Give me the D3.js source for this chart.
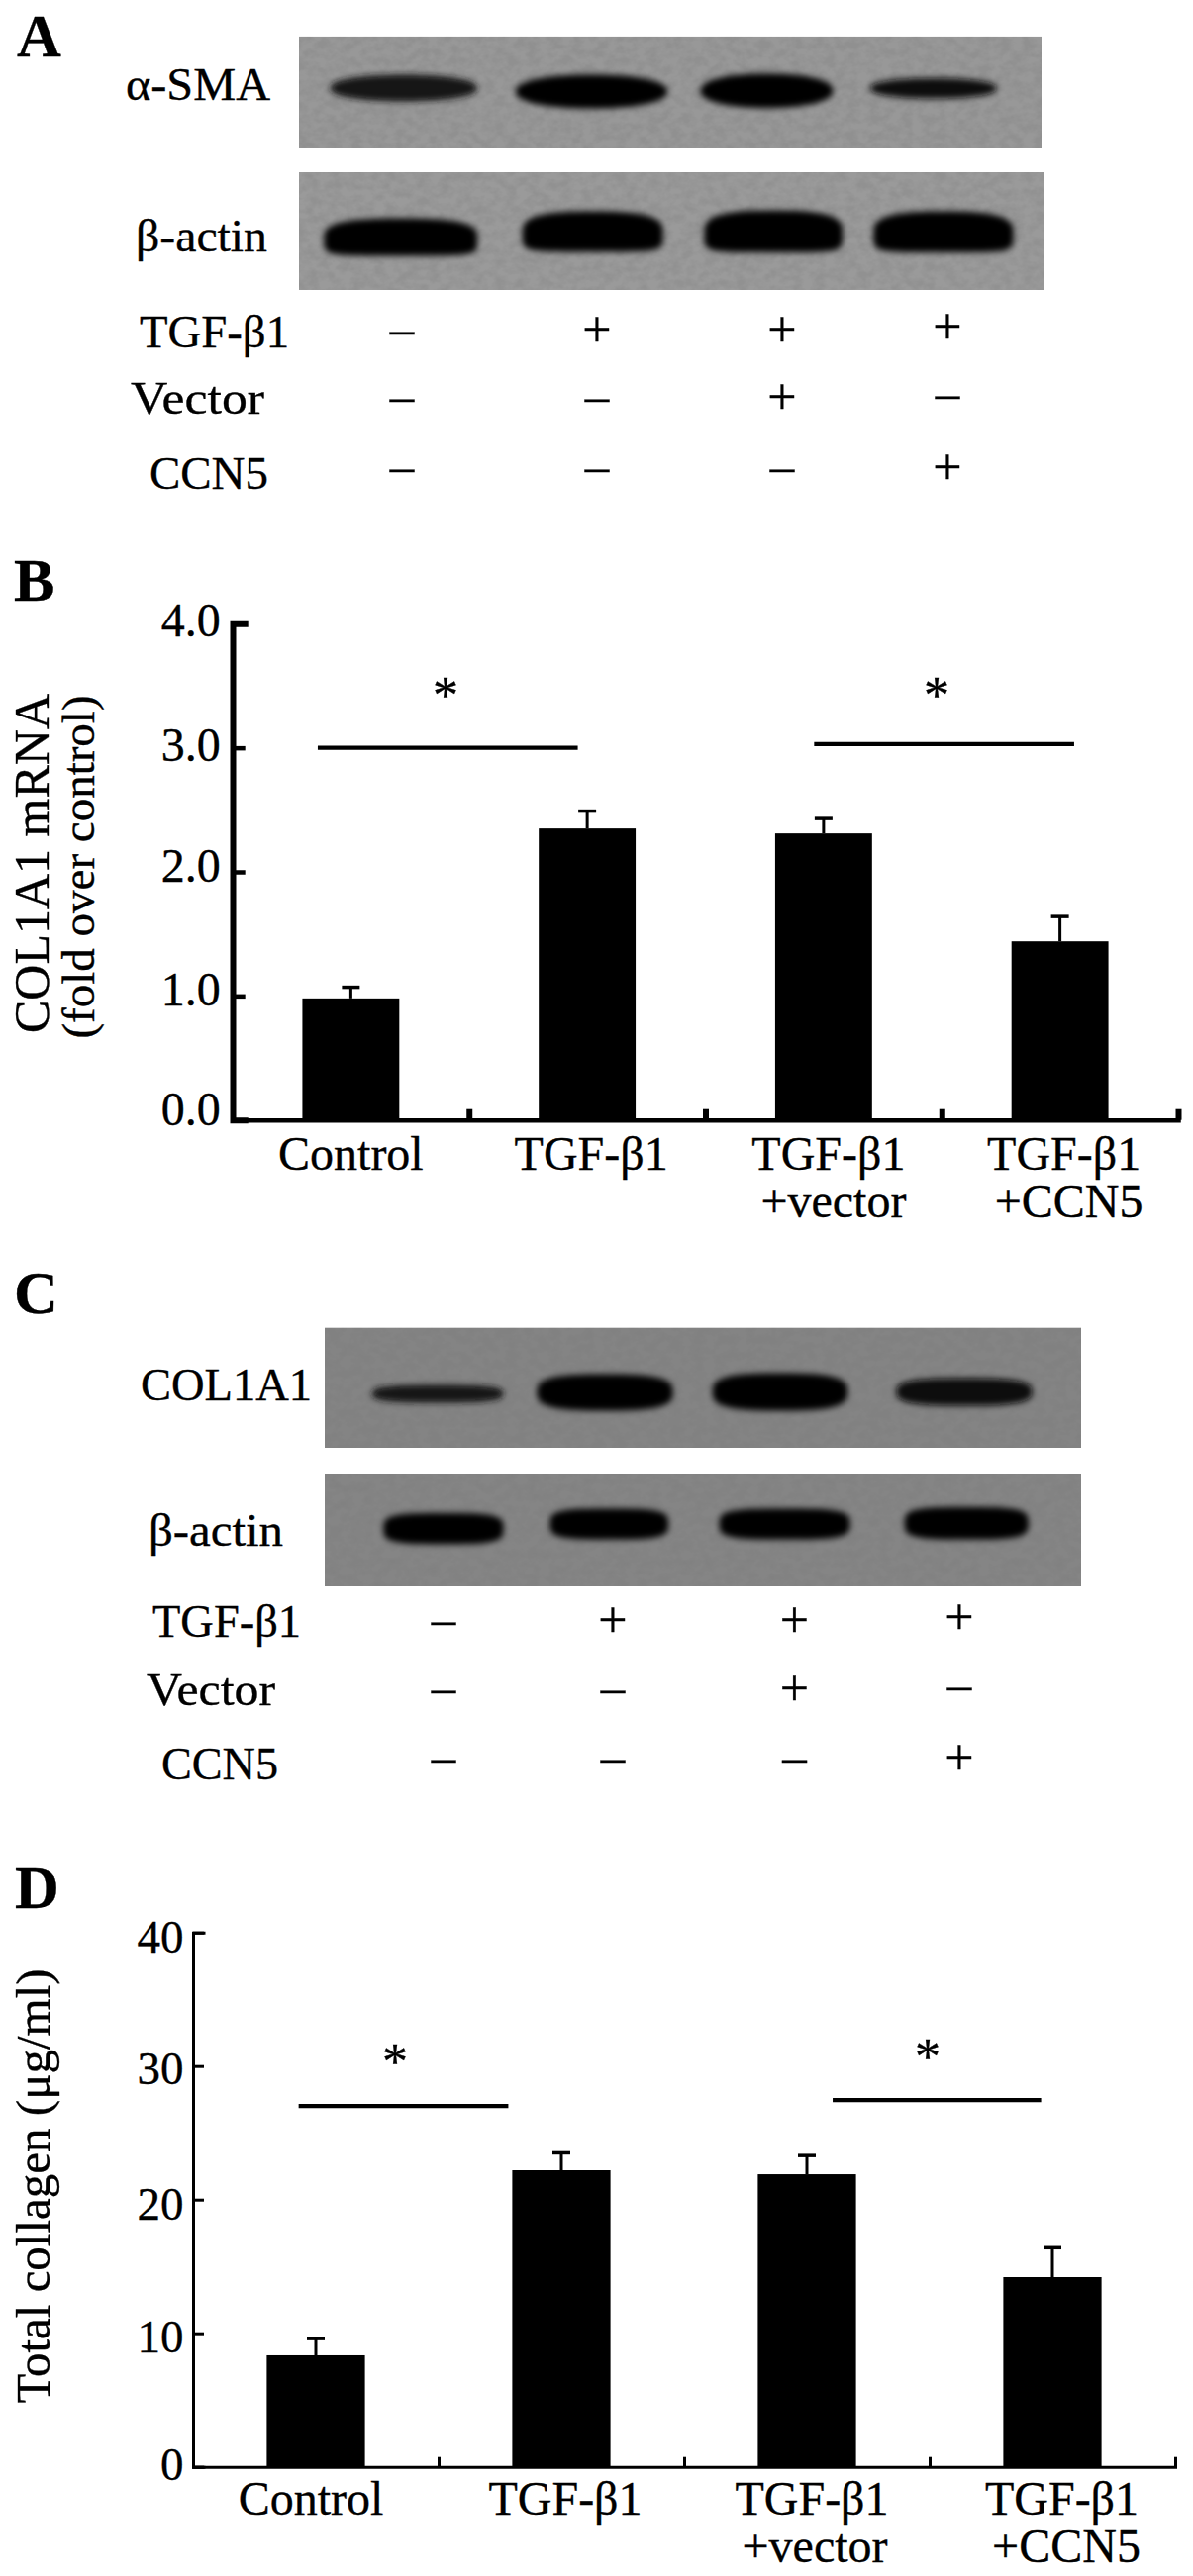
<!DOCTYPE html>
<html><head><meta charset="utf-8">
<script src="https://cdn.jsdelivr.net/npm/d3@7"></script>
<style>html,body{margin:0;padding:0;background:#fff}svg{display:block}text{font-family:"Liberation Serif",serif;fill:#000;stroke:#000;stroke-width:.35px}</style>
</head><body><div id="chart"></div>
<script>
// ---------- data ----------
const categories = ["Control", "TGF-β1", "TGF-β1\n+vector", "TGF-β1\n+CCN5"];
const mrnaMeans = [0.98, 2.35, 2.31, 1.44];
const mrnaUpper = [1.07, 2.49, 2.43, 1.64];
const mrnaTicks = [0, 1, 2, 3, 4];
const collagenMeans = [8.35, 22.2, 21.9, 14.2];
const collagenUpper = [9.6, 23.5, 23.3, 16.4];
const collagenTicks = [0, 10, 20, 30, 40];
// significance bars: from / to in group units, level in axis units, star group position, star level
const mrnaSig = [[0.36, 1.46, 3.0, 0.9, 3.475], [2.46, 3.56, 3.03, 2.978, 3.475]];
const collagenSig = [[0.43, 1.284, 27.0, 0.823, 30.8], [2.605, 3.454, 27.45, 2.992, 31.2]];
// treatment grid
const treatments = ["TGF-β1", "Vector", "CCN5"];
const treatmentSigns = [["–", "+", "+", "+"], ["–", "–", "+", "–"], ["–", "–", "–", "+"]];
// western blot bands, percent of blot: left, right, top, bottom, density
const smaBands = [[4.1, 24.1, 33.8, 58.5, .88], [29.1, 49.7, 33.8, 64.7, 1], [54, 72, 32.9, 64.2, 1], [76.8, 94.1, 36.9, 55.9, .9]];
const actinABands = [[3.3, 24, 38.7, 71.4, 1], [29.9, 48.9, 32.8, 68, 1], [54.3, 73, 32, 68.5, 1], [77, 95.9, 32.8, 68.5, 1]];
const colBands = [[6.2, 23.7, 47.4, 63, .87], [28, 46.1, 38.3, 69.6, 1], [51.2, 69.2, 37.5, 69.6, 1], [75.5, 93.6, 41.6, 65.5, .95]];
const actinCBands = [[7.7, 23.7, 34.7, 62.9, 1], [29.7, 45.5, 30.7, 58.8, 1], [52.1, 69.5, 30.7, 58.8, 1], [76.6, 93.1, 29.4, 58.8, 1]];

// ---------- canvas ----------
const svg = d3.select("#chart").append("svg").attr("width", 1205).attr("height", 2603);
const defs = svg.append("defs");
const blur = defs.append("filter").attr("id", "soft").attr("x", "-20%").attr("y", "-40%").attr("width", "140%").attr("height", "180%");
blur.append("feGaussianBlur").attr("stdDeviation", 3.2);
const speckle = defs.append("filter").attr("id", "speckle").attr("x", 0).attr("y", 0).attr("width", "100%").attr("height", "100%");
speckle.append("feTurbulence").attr("type", "fractalNoise").attr("baseFrequency", ".09 .12").attr("numOctaves", 3).attr("seed", 5);
speckle.append("feColorMatrix").attr("type", "matrix").attr("values", "0 0 0 0 0  0 0 0 0 0  0 0 0 0 0  0 0 0 2.4 -.8");
const lineGen = d3.line().curve(d3.curveLinearClosed);

function label(x, y, txt, size, extra) {
  const t = svg.append("text").attr("x", x).attr("y", y).attr("font-size", size).text(txt);
  if (extra) extra(t);
  return t;
}
function fitted(x, y, txt, width) {
  return label(x, y, txt, 47, t => t.attr("textLength", width).attr("lengthAdjust", "spacingAndGlyphs"));
}

// ---------- western blots ----------
function blot(id, x0, x1, y0, y1, tone, grainLevel, bands, nTop, nBottom) {
  const px = d3.scaleLinear().domain([0, 100]).range([x0, x1]);
  const py = d3.scaleLinear().domain([0, 100]).range([y0, y1]);
  defs.append("clipPath").attr("id", id).append("rect").attr("x", x0).attr("y", y0).attr("width", x1 - x0).attr("height", y1 - y0);
  const g = svg.append("g").attr("clip-path", `url(#${id})`);
  g.append("rect").attr("x", x0).attr("y", y0).attr("width", x1 - x0).attr("height", y1 - y0).attr("fill", tone);
  g.append("rect").attr("x", x0).attr("y", y0).attr("width", x1 - x0).attr("height", y1 - y0)
    .attr("fill", "#000").attr("opacity", grainLevel).style("filter", "url(#speckle)");
  const inset = 0.5;
  g.selectAll("path.band").data(bands).join("path").attr("class", "band")
    .attr("fill", d => d3.interpolateRgb("#000", tone)(1 - d[4] + .01))
    .attr("filter", "url(#soft)")
    .attr("d", d => {
      const cx = (px(d[0]) + px(d[1])) / 2, cy = (py(d[2]) + py(d[3])) / 2;
      const rx = (px(d[1]) - px(d[0])) / 2 - inset, ry = (py(d[3]) - py(d[2])) / 2 - inset;
      return lineGen(d3.range(0, 72).map(i => {
        const a = i / 72 * 2 * Math.PI, c = Math.cos(a), s = Math.sin(a);
        const n = s < 0 ? nTop : nBottom;
        return [cx + rx * Math.sign(c) * Math.pow(Math.abs(c), 2 / n), cy + ry * Math.sign(s) * Math.pow(Math.abs(s), 2 / n)];
      }));
    });
}
blot("b1", 302, 1052, 36.7, 150, "#989898", .05, smaBands, 2.2, 2.2);
blot("b2", 302, 1055, 174, 293, "#9a9a9a", .05, actinABands, 2.8, 6);
blot("b3", 328, 1092, 1341.4, 1463, "#848484", .02, colBands, 3, 3);
blot("b4", 328, 1092, 1489, 1603, "#858585", .02, actinCBands, 3.6, 3.6);

// ---------- treatment grids ----------
function grid(columns, rows, col4Lift) {
  const cx = d3.scaleOrdinal().domain(d3.range(4)).range(columns);
  const cy = d3.scaleOrdinal().domain(d3.range(3)).range(rows);
  treatmentSigns.forEach((row, r) => row.forEach((s, c) => {
    const lift = (c === 3 && r < 2) ? col4Lift : 0;
    svg.append("text").attr("x", cx(c)).attr("y", cy(r) - lift + (s === "+" ? 13 : 10.5))
      .attr("text-anchor", "middle").attr("font-size", s === "+" ? 52 : 49).text(s);
  }));
}
grid([406, 603, 790, 957], [337, 405, 476], 3);
grid([448, 619, 802.5, 969], [1641, 1710, 1780], 3);

fitted(127, 101, "α-SMA", 146);
fitted(137, 254, "β-actin", 133);
fitted(141, 350.5, treatments[0], 151);
fitted(132, 418, treatments[1], 135);
fitted(151, 494, treatments[2], 120);
fitted(142, 1415, "COL1A1", 173);
fitted(150, 1562, "β-actin", 136);
fitted(154, 1654, treatments[0], 150);
fitted(148, 1722.5, treatments[1], 130);
fitted(163, 1798, treatments[2], 118);

// ---------- bar panels ----------
function barPanel(o) {
  const y = d3.scaleLinear().domain(o.domain).range(o.yRange);
  const groups = d3.scaleLinear().domain([0, 4]).range(o.xRange);
  const x = d3.scaleBand().domain(categories).range(o.xRange).paddingInner(o.pad).paddingOuter(o.pad / 2);
  const g = svg.append("g");
  g.selectAll("rect.bar").data(o.means).join("rect").attr("class", "bar")
    .attr("x", (d, i) => x(categories[i])).attr("width", x.bandwidth())
    .attr("y", d => y(d)).attr("height", d => y(0) - y(d)).attr("fill", "#000");
  const cxOf = i => x(categories[i]) + x.bandwidth() / 2;
  g.selectAll("line.stem").data(o.upper).join("line").attr("class", "stem")
    .attr("x1", (d, i) => cxOf(i)).attr("x2", (d, i) => cxOf(i))
    .attr("y1", (d, i) => y(o.means[i])).attr("y2", d => y(d))
    .attr("stroke", "#000").attr("stroke-width", 3);
  g.selectAll("line.cap").data(o.upper).join("line").attr("class", "cap")
    .attr("x1", (d, i) => cxOf(i) - 9).attr("x2", (d, i) => cxOf(i) + 9)
    .attr("y1", d => y(d)).attr("y2", d => y(d))
    .attr("stroke", "#000").attr("stroke-width", 3.5);

  const yAxis = g.append("g").attr("transform", `translate(${o.xRange[0]},0)`)
    .call(d3.axisLeft(y).tickValues(o.ticks).tickFormat(d3.format(o.fmt)).tickSize(-o.tick).tickPadding(o.tickPad));
  yAxis.selectAll("path.domain").attr("stroke-width", o.yw).attr("stroke-linecap", "square");
  yAxis.selectAll(".tick line").attr("stroke-width", o.tw).attr("stroke", "#000");
  yAxis.selectAll(".tick text").attr("font-size", o.tickFont).attr("font-family", "Liberation Serif")
    .attr("dy", 0).attr("y", (d, i) => o.tickDrop[i]);
  const xAxis = g.append("g").attr("transform", `translate(0,${y(0)})`)
    .call(d3.axisBottom(groups).tickValues([1, 2, 3, 4]).tickFormat("").tickSizeInner(-o.xTick).tickSizeOuter(0));
  xAxis.selectAll("path.domain").attr("stroke-width", o.xw).attr("stroke-linecap", "square");
  xAxis.selectAll(".tick line").attr("stroke-width", o.xtw);

  categories.forEach((c, i) => c.split("\n").forEach((s, k) => {
    label(cxOf(i) + o.labelNudge[k][i], o.labelY[k], s, 48, t => t.attr("text-anchor", "middle"));
  }));

  o.sig.forEach(([a, b, level, starX, starLevel]) => {
    g.append("line").attr("x1", groups(a)).attr("x2", groups(b)).attr("y1", y(level)).attr("y2", y(level))
      .attr("stroke", "#000").attr("stroke-width", 4.2);
    label(groups(starX), y(starLevel) + 24, "*", 52, t => t.attr("text-anchor", "middle"));
  });
}

barPanel({
  domain: [0, 4], yRange: [1131.7, 630.3], xRange: [235, 1190], pad: .59, means: mrnaMeans, upper: mrnaUpper,
  ticks: mrnaTicks, fmt: ".1f", tick: 12.7, tickPad: 12.3, tickFont: 48, tickDrop: [4.5, 9, 9, 13, 11.7], yw: 6, tw: 4.5,
  xTick: 11, xw: 4.5, xtw: 6, labelNudge: [[0, 4, 5, 4], [0, 0, 10, 9]], labelY: [1181.5, 1229.7], sig: mrnaSig
});
barPanel({
  domain: [0, 40], yRange: [2492.7, 1952.7], xRange: [195, 1187], pad: .6, means: collagenMeans, upper: collagenUpper,
  ticks: collagenTicks, fmt: "d", tick: 11, tickPad: 9.5, tickFont: 47, tickDrop: [12.5, 19, 20, 17.3, 19.6], yw: 3, tw: 3,
  xTick: 10, xw: 3, xtw: 3, labelNudge: [[-5, 4, 5, 9.5], [0, 0, 8, 14]], labelY: [2541, 2589], sig: collagenSig
});

// ---------- axis titles ----------
function vertical(x, y, txt, size) {
  svg.append("text").attr("transform", `translate(${x},${y}) rotate(-90)`)
    .attr("text-anchor", "middle").attr("font-size", size).text(txt);
}
vertical(48.5, 872.5, "COL1A1 mRNA", 50);
vertical(94.5, 876, "(fold over control)", 47);
vertical(50, 2209, "Total collagen (μg/ml)", 49);

// ---------- panel letters ----------
[["A", 17, 57], ["B", 14, 607], ["C", 14, 1327], ["D", 15, 1928]].forEach(([s, x, y]) =>
  label(x, y, s, 62, t => t.attr("font-weight", "bold")));
</script></body></html>
